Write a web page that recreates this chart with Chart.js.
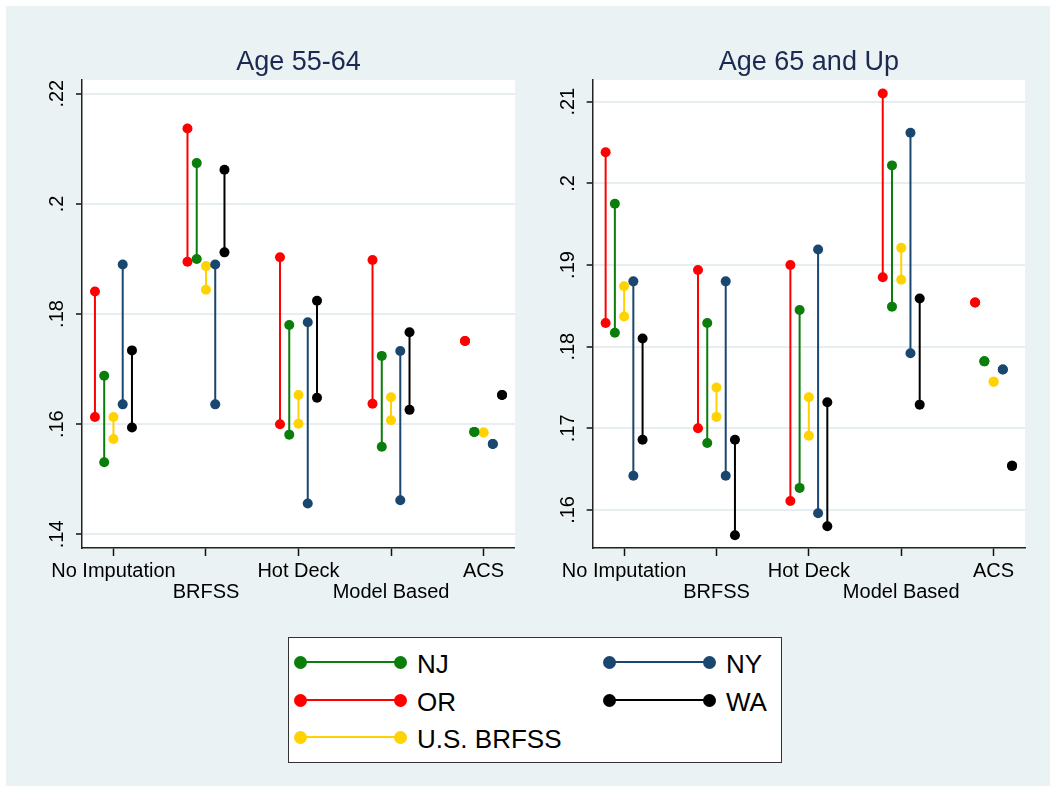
<!DOCTYPE html>
<html>
<head>
<meta charset="utf-8">
<script src="https://cdn.jsdelivr.net/npm/chart.js@4.4.1/dist/chart.umd.min.js"></script>
<style>
  body { margin: 0; background: #fff; width: 1050px; height: 786px; overflow: hidden; font-family: 'Liberation Sans', Arial, sans-serif; position: relative; }
  #bg { position: absolute; left: 6px; top: 6px; right: 0; bottom: 0; background: #eaf2f3; }
  .panel { position: absolute; top: 0; }
  #legend { position: absolute; left: 288px; top: 637px; width: 494px; height: 126px; background: #fff; border: 1.5px solid #333; box-sizing: border-box; }
  .key-line { position: absolute; height: 2px; }
  .key-dot { position: absolute; width: 13px; height: 13px; border-radius: 50%; }
  .key-text { position: absolute; font-size: 26px; line-height: 30px; color: #000; white-space: nowrap; }
</style>
</head>
<body>
<div id="bg"></div>
<canvas id="left" class="panel" width="515" height="610" style="left:0"></canvas>
<canvas id="right" class="panel" width="535" height="610" style="left:515px"></canvas>
<div id="legend"></div>

<script>
// categories along the x axis and the series (legend order)
const CATEGORIES = ['No Imputation', 'BRFSS', 'Hot Deck', 'Model Based', 'ACS'];
const SERIES = ['NJ', 'NY', 'OR', 'WA', 'U.S. BRFSS'];
const COLORS = ['#0a7d0a', '#1a476f', '#ff0000', '#000000', '#ffd200'];
const OFFSETS = [-0.1, 0.1, -0.2, 0.2, 0];

// Age 55-64: low / high ends per category
const NJ_55_LO = [.1531, .1900, .1581, .1559, .1586];
const NJ_55_HI = [.1688, .2074, .1780, .1724, .1586];
const NY_55_LO = [.1636, .1636, .1456, .1462, .1564];
const NY_55_HI = [.1890, .1890, .1785, .1733, .1564];
const OR_55_LO = [.1613, .1895, .1600, .1637, .1751];
const OR_55_HI = [.1841, .2137, .1903, .1898, .1751];
const WA_55_LO = [.1594, .1912, .1648, .1626, .1653];
const WA_55_HI = [.1734, .2062, .1824, .1767, .1653];
const US_55_LO = [.1573, .1844, .1601, .1607, .1585];
const US_55_HI = [.1613, .1887, .1653, .1649, .1585];

// Age 65 and up
const NJ_65_LO = [.1817, .1682, .1627, .1849, .1782];
const NJ_65_HI = [.1975, .1829, .1845, .2022, .1782];
const NY_65_LO = [.1642, .1642, .1596, .1792, .1772];
const NY_65_HI = [.1880, .1880, .1919, .2062, .1772];
const OR_65_LO = [.1829, .1700, .1611, .1885, .1854];
const OR_65_HI = [.2038, .1894, .1900, .2110, .1854];
const WA_65_LO = [.1686, .1569, .1580, .1729, .1654];
const WA_65_HI = [.1810, .1686, .1732, .1859, .1654];
const US_65_LO = [.1837, .1714, .1691, .1882, .1757];
const US_65_HI = [.1874, .1750, .1738, .1921, .1757];

const Y_TICKS_55 = [.14, .16, .18, .20, .22];
const Y_TICKS_65 = [.16, .17, .18, .19, .20, .21];

const FONT = "'Liberation Sans', Arial, sans-serif";

function fmt(v) {
  return v.toFixed(2).replace(/^0/, '').replace(/0$/, '');
}

// one dataset per series: vertical segments separated by null gaps
function buildDatasets(lows, highs) {
  return SERIES.map((name, s) => {
    const pts = [];
    CATEGORIES.forEach((c, i) => {
      const x = i + 1 + OFFSETS[s];
      pts.push({ x, y: lows[s][i] }, { x, y: highs[s][i] }, { x, y: null });
    });
    return {
      label: name,
      data: pts,
      borderColor: COLORS[s],
      backgroundColor: COLORS[s],
      borderWidth: 2,
      pointRadius: 5,
      pointBorderWidth: 0,
      pointBackgroundColor: COLORS[s],
      spanGaps: false,
      clip: false
    };
  });
}

const panelText = {
  id: 'panelText',
  beforeDraw(chart) {
    const { ctx, chartArea: a } = chart;
    ctx.save();
    ctx.fillStyle = '#fff';
    ctx.fillRect(a.left, a.top, a.right - a.left, a.bottom - a.top);
    ctx.restore();
  },
  afterDraw(chart, args, opts) {
    const { ctx, chartArea: a, scales } = chart;
    ctx.save();
    ctx.fillStyle = '#1c2a52';
    ctx.font = '27px ' + FONT;
    ctx.textAlign = 'center';
    ctx.textBaseline = 'alphabetic';
    ctx.fillText(opts.title, (a.left + a.right) / 2, 70);

    ctx.fillStyle = '#000';
    ctx.font = '20px ' + FONT;
    scales.y.ticks.forEach(t => {
      const y = scales.y.getPixelForValue(t.value);
      ctx.save();
      ctx.translate(a.left - 19, y);
      ctx.rotate(-Math.PI / 2);
      ctx.fillText(fmt(t.value), 0, 0);
      ctx.restore();
    });
    ctx.restore();
  }
};

function makePanel(id, title, lows, highs, yMin, yMax, yTicks, axisWidth, padRight) {
  return new Chart(document.getElementById(id), {
    type: 'line',
    data: { datasets: buildDatasets(lows, highs) },
    plugins: [panelText],
    options: {
      responsive: false,
      animation: false,
      devicePixelRatio: 1,
      layout: { autoPadding: false, padding: { top: 80, right: padRight, bottom: 0, left: 0 } },
      plugins: {
        legend: { display: false },
        tooltip: { enabled: false },
        panelText: { title }
      },
      scales: {
        x: {
          type: 'linear',
          min: 0.66,
          max: 5.34,
          afterBuildTicks: s => { s.ticks = CATEGORIES.map((c, i) => ({ value: i + 1 })); },
          afterFit: s => { s.height = 62; },
          ticks: {
            autoSkip: false,
            maxRotation: 0,
            minRotation: 0,
            padding: 5,
            color: '#000',
            font: { family: FONT, size: 20, lineHeight: 1.035 },
            callback: v => {
              const i = Math.round(v) - 1;
              return i % 2 === 0 ? [CATEGORIES[i], ''] : ['', CATEGORIES[i]];
            }
          },
          grid: { drawOnChartArea: false, tickLength: 8, tickColor: '#111', tickWidth: 1.5 },
          border: { display: true, color: '#222', width: 1.5 }
        },
        y: {
          type: 'linear',
          min: yMin,
          max: yMax,
          afterBuildTicks: s => { s.ticks = yTicks.map(v => ({ value: v })); },
          afterFit: s => { s.width = axisWidth; },
          ticks: { display: false },
          grid: { color: '#e6eef1', lineWidth: 2, tickLength: 6, tickColor: '#111', tickWidth: 1.5 },
          border: { display: true, color: '#222', width: 1.5 }
        }
      }
    }
  });
}

makePanel('left', 'Age 55-64',
  [NJ_55_LO, NY_55_LO, OR_55_LO, WA_55_LO, US_55_LO],
  [NJ_55_HI, NY_55_HI, OR_55_HI, WA_55_HI, US_55_HI],
  0.13752, 0.22249, Y_TICKS_55, 82, 0);

makePanel('right', 'Age 65 and Up',
  [NJ_65_LO, NY_65_LO, OR_65_LO, WA_65_LO, US_65_LO],
  [NJ_65_HI, NY_65_HI, OR_65_HI, WA_65_HI, US_65_HI],
  0.15534, 0.21266, Y_TICKS_65, 77.7, 25);

// shared legend, two columns filled row by row
const legend = document.getElementById('legend');
const ROW_Y = [24, 62, 99];
const COL_X = [11, 320];
SERIES.forEach((name, s) => {
  const cy = ROW_Y[Math.floor(s / 2)];
  const x1 = COL_X[s % 2], x2 = x1 + 100;
  const line = document.createElement('div');
  line.className = 'key-line';
  Object.assign(line.style, { left: x1 + 'px', top: (cy - 1) + 'px', width: (x2 - x1) + 'px', background: COLORS[s] });
  legend.appendChild(line);
  [x1, x2].forEach(x => {
    const dot = document.createElement('div');
    dot.className = 'key-dot';
    Object.assign(dot.style, { left: (x - 6.5) + 'px', top: (cy - 6.5) + 'px', background: COLORS[s] });
    legend.appendChild(dot);
  });
  const txt = document.createElement('div');
  txt.className = 'key-text';
  txt.textContent = name;
  Object.assign(txt.style, { left: (x2 + 17) + 'px', top: (cy - 13) + 'px' });
  legend.appendChild(txt);
});
</script>
</body>
</html>
